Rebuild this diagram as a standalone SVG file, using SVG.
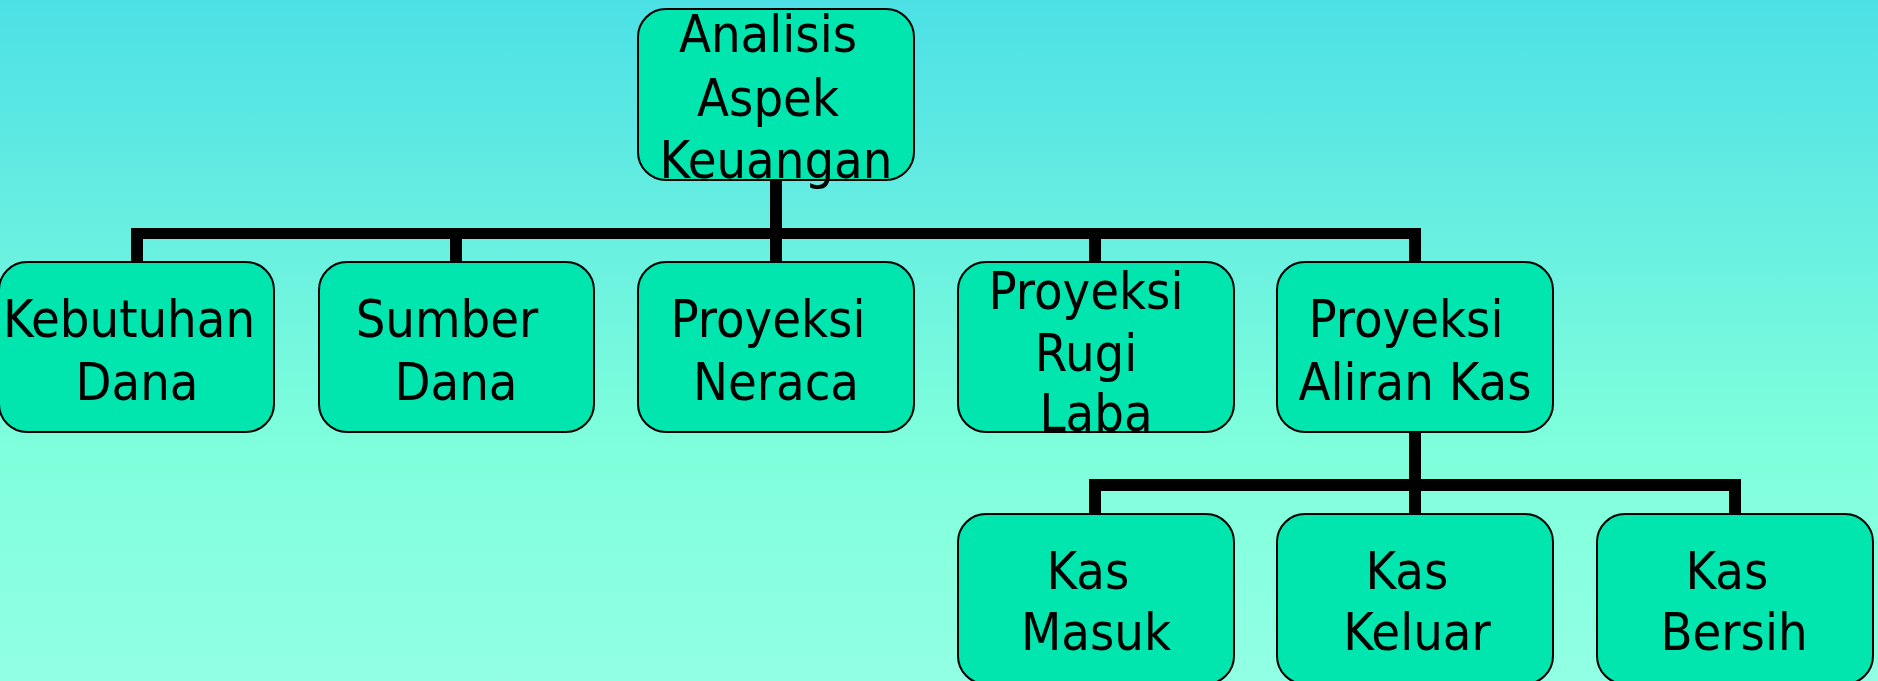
<svg xmlns="http://www.w3.org/2000/svg" width="1878" height="681" viewBox="0 0 1878 681">
<defs>
<linearGradient id="bg" x1="0" y1="0" x2="0" y2="1">
<stop offset="0" stop-color="#4CE0E5"/>
<stop offset="0.3" stop-color="#65EDE1"/>
<stop offset="0.66" stop-color="#7FFFDB"/>
<stop offset="1" stop-color="#92FFE4"/>
</linearGradient>
<style>
.box{fill:#00E6AE;stroke:#000;stroke-width:2}
.t{font-family:"DejaVu Sans Condensed","DejaVu Sans",sans-serif;font-stretch:condensed;font-size:52px;fill:#000;text-anchor:middle}
.c{fill:#000;stroke:none}
</style>
</defs>
<rect x="0" y="0" width="1878" height="681" fill="url(#bg)"/>
<g id="connectors">
<rect class="c" x="770" y="178" width="12" height="56"/>
<rect class="c" x="131" y="228" width="1290" height="11"/>
<rect class="c" x="131" y="228" width="12" height="36"/>
<rect class="c" x="450" y="228" width="12" height="36"/>
<rect class="c" x="770" y="228" width="12" height="36"/>
<rect class="c" x="1089" y="228" width="12" height="36"/>
<rect class="c" x="1409" y="228" width="12" height="36"/>
<rect class="c" x="1409" y="430" width="12" height="86"/>
<rect class="c" x="1089" y="479" width="652" height="12"/>
<rect class="c" x="1089" y="479" width="12" height="37"/>
<rect class="c" x="1729" y="479" width="12" height="37"/>
</g>
<g id="n-analisis">
<rect class="box" x="638" y="9" width="276" height="171" rx="28"/>
<text class="t" x="768" y="52">Analisis</text>
<text class="t" x="768" y="116">Aspek</text>
<text class="t" x="776" y="178">Keuangan</text>
</g>
<g id="n-kebutuhan">
<rect class="box" x="-1" y="262" width="275" height="170" rx="28"/>
<text class="t" x="129" y="337">Kebutuhan</text>
<text class="t" x="137" y="400">Dana</text>
</g>
<g id="n-sumber">
<rect class="box" x="319" y="262" width="275" height="170" rx="28"/>
<text class="t" x="447" y="337">Sumber</text>
<text class="t" x="456" y="400">Dana</text>
</g>
<g id="n-neraca">
<rect class="box" x="638" y="262" width="276" height="170" rx="28"/>
<text class="t" x="768" y="337">Proyeksi</text>
<text class="t" x="776" y="400">Neraca</text>
</g>
<g id="n-rugilaba">
<rect class="box" x="958" y="262" width="276" height="170" rx="28"/>
<text class="t" x="1086" y="309">Proyeksi</text>
<text class="t" x="1086" y="371">Rugi</text>
<text class="t" x="1096" y="431">Laba</text>
</g>
<g id="n-aliran">
<rect class="box" x="1277" y="262" width="276" height="170" rx="28"/>
<text class="t" x="1406" y="337">Proyeksi</text>
<text class="t" x="1415" y="400">Aliran Kas</text>
</g>
<g id="n-masuk">
<rect class="box" x="958" y="514" width="276" height="170" rx="28"/>
<text class="t" x="1088" y="589">Kas</text>
<text class="t" x="1096" y="650">Masuk</text>
</g>
<g id="n-keluar">
<rect class="box" x="1277" y="514" width="276" height="170" rx="28"/>
<text class="t" x="1407" y="589">Kas</text>
<text class="t" x="1417" y="650">Keluar</text>
</g>
<g id="n-bersih">
<rect class="box" x="1597" y="514" width="276" height="170" rx="28"/>
<text class="t" x="1727" y="589">Kas</text>
<text class="t" x="1734" y="650">Bersih</text>
</g>
</svg>
